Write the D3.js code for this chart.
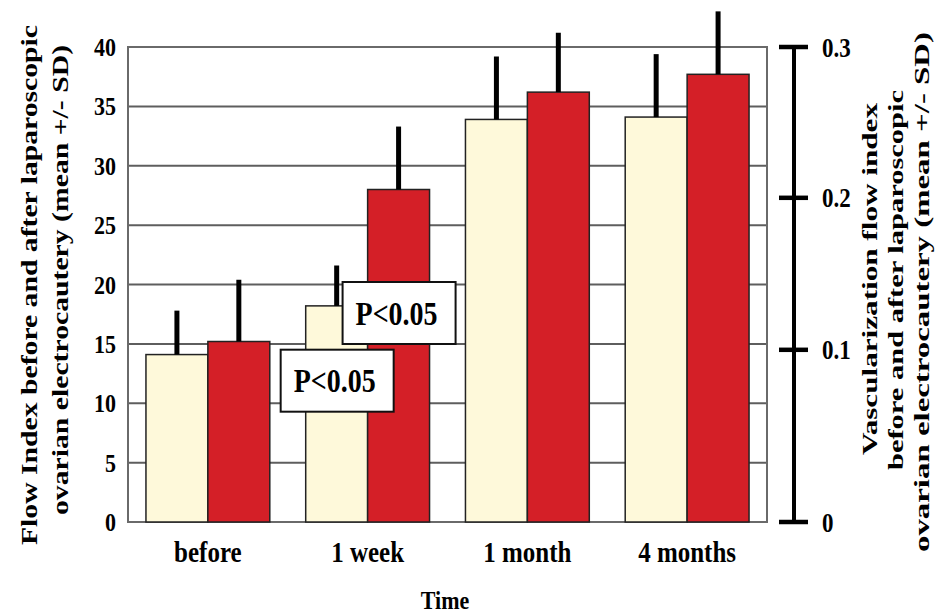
<!DOCTYPE html>
<html><head><meta charset="utf-8">
<script src="https://cdn.jsdelivr.net/npm/d3@7"></script>
<style>body{margin:0;background:#fff}</style>
</head><body>
<svg id="c" width="951" height="614"></svg>
<script>
const categories = ["before", "1 week", "1 month", "4 months"];
const seriesNames = ["flow", "vasc"];
const flowMean = [14.1, 18.2, 33.9, 34.1];
const flowSD = [3.7, 3.4, 5.3, 5.3];
const vascMean = [15.2, 28.0, 36.2, 37.7];
const vascSD = [5.2, 5.3, 5.0, 5.3];
const leftTicks = [0, 5, 10, 15, 20, 25, 30, 35, 40];
const rightTicks = [0, 0.1, 0.2, 0.3];
const rightTickOnLeft = [0, 14.5, 27.3, 40];
const annotationText = ["P<0.05", "P<0.05"];
const annotationCat = ["1 week", "1 week"];
const annotationSeries = ["vasc", "flow"];
const annotationValue = [17.6, 11.9];
const leftTitle = ["Flow Index before and after laparoscopic", "ovarian electrocautery (mean +/- SD)"];
const rightTitle = ["Vascularization flow index", "before and after laparoscopic", "ovarian electrocautery (mean +/- SD)"];
const xTitle = "Time";

const colors = {flow: "#FEF9DA", vasc: "#D41F27"};
const FONT = "'Liberation Serif', 'Times New Roman', serif";
const SY = 1.18; // vertical stretch of lettering

const svg = d3.select("#c");
const M = {left: 128, right: 184, top: 47, bottom: 92};
const W = 951, H = 614;
const x0 = d3.scaleBand().domain(categories).range([M.left, W - M.right]).padding(0);
const x1 = d3.scaleBand().domain(seriesNames).range([0, x0.bandwidth()]).paddingInner(0).paddingOuter(0.29);
const y = d3.scaleLinear().domain([0, 40]).range([H - M.bottom, M.top]);
const yR = d3.scaleLinear().domain(rightTicks).range(rightTickOnLeft.map(v => y(v)));

function label(parent, x, yy, txt, size, anchor) {
  const g = parent.append("g").attr("transform", `translate(${x},${yy}) scale(1,${SY})`);
  return g.append("text").attr("text-anchor", anchor).attr("dy", "0.35em")
    .attr("font-family", FONT).attr("font-weight", "bold").attr("font-size", size).text(txt);
}

// gridlines
svg.append("g").selectAll("line").data(leftTicks.slice(1, -1)).join("line")
  .attr("x1", M.left).attr("x2", W - M.right)
  .attr("y1", d => y(d)).attr("y2", d => y(d))
  .attr("stroke", "#5e5e5e").attr("stroke-width", 2);
// frame
svg.append("rect").attr("x", M.left).attr("y", y(40)).attr("width", W - M.right - M.left)
  .attr("height", y(0) - y(40)).attr("fill", "none").attr("stroke", "#6a6a6a").attr("stroke-width", 2);

const rows = categories.map((c, i) => [
  {cat: c, s: "flow", v: flowMean[i], sd: flowSD[i]},
  {cat: c, s: "vasc", v: vascMean[i], sd: vascSD[i]}
]).flat();

svg.append("g").selectAll("rect").data(rows).join("rect")
  .attr("x", d => x0(d.cat) + x1(d.s)).attr("width", x1.bandwidth())
  .attr("y", d => y(d.v)).attr("height", d => y(0) - y(d.v))
  .attr("fill", d => colors[d.s]).attr("stroke", "#222").attr("stroke-width", 1.5);

svg.append("g").selectAll("line").data(rows).join("line")
  .attr("x1", d => x0(d.cat) + x1(d.s) + x1.bandwidth() / 2)
  .attr("x2", d => x0(d.cat) + x1(d.s) + x1.bandwidth() / 2)
  .attr("y1", d => y(d.v)).attr("y2", d => y(d.v + d.sd))
  .attr("stroke", "#000").attr("stroke-width", 5);

// left axis labels
const gl = svg.append("g");
leftTicks.forEach(d => label(gl, 116, y(d), String(d), 22, "end"));

// right axis
const rx = 794;
svg.append("line").attr("x1", rx).attr("x2", rx).attr("y1", yR(0)).attr("y2", yR(0.3))
  .attr("stroke", "#000").attr("stroke-width", 4);
svg.append("g").selectAll("line").data(rightTicks).join("line")
  .attr("x1", rx - 15).attr("x2", rx + 14).attr("y1", d => yR(d)).attr("y2", d => yR(d))
  .attr("stroke", "#000").attr("stroke-width", 4.5);
const gr = svg.append("g");
rightTicks.forEach(d => label(gr, 822, yR(d), d === 0 ? "0" : d3.format(".1f")(d), 23, "start"));

// x labels
const gx = svg.append("g");
categories.forEach(d => label(gx, x0(d) + x0.bandwidth() / 2, 552, d, 25, "middle"));
label(svg, 445, 600, xTitle, 22, "middle");

// titles (rotated, lettering stretched along the text direction)
const leftLen = [520, 470];
const leftMid = [285, 280];
leftTitle.forEach((t, i) => {
  svg.append("text").attr("transform", `translate(${37 + i * 31},${leftMid[i]}) rotate(-90)`)
    .attr("text-anchor", "middle").attr("font-family", FONT).attr("font-weight", "bold")
    .attr("font-size", 23).attr("textLength", leftLen[i]).attr("lengthAdjust", "spacingAndGlyphs")
    .text(t);
});
const rightLen = [352, 380, 520];
const rightMid = [279, 280, 292];
rightTitle.forEach((t, i) => {
  svg.append("text").attr("transform", `translate(${877 + i * 26},${rightMid[i]}) rotate(-90)`)
    .attr("text-anchor", "middle").attr("font-family", FONT).attr("font-weight", "bold")
    .attr("font-size", 20).attr("textLength", rightLen[i]).attr("lengthAdjust", "spacingAndGlyphs")
    .text(t);
});

// annotations
annotationText.forEach((t, i) => {
  const cx = x0(annotationCat[i]) + x1(annotationSeries[i]) + x1.bandwidth() / 2;
  const cy = y(annotationValue[i]);
  const g = svg.append("g");
  g.append("rect").attr("x", cx - 56).attr("y", cy - 31).attr("width", 113).attr("height", 62)
    .attr("fill", "#fff").attr("stroke", "#111").attr("stroke-width", 2);
  label(g, cx - 2, cy, t, 28, "middle");
});
</script>
</body></html>
